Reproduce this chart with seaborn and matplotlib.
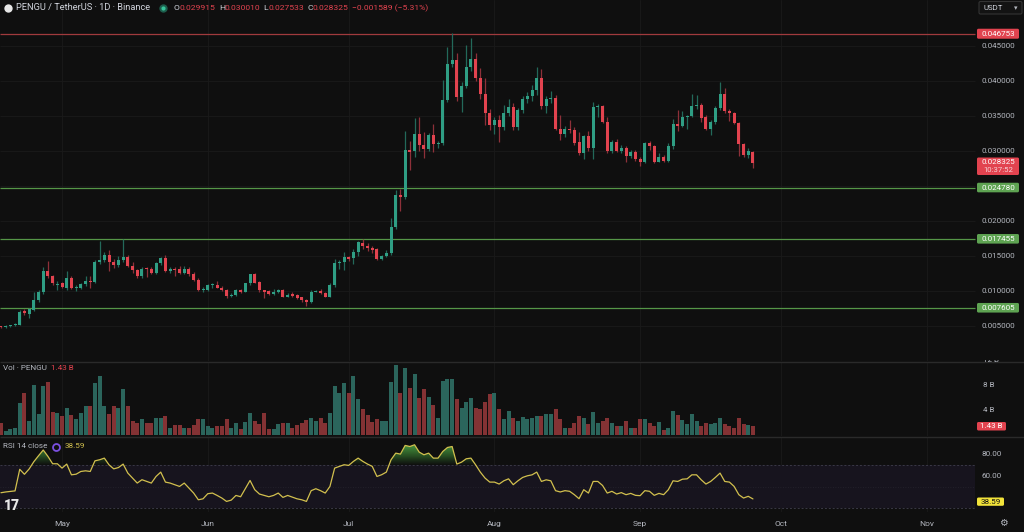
import numpy as np
import pandas as pd
import matplotlib
matplotlib.use("Agg")
import matplotlib.pyplot as plt
import seaborn as sns
from matplotlib.patches import Rectangle, FancyBboxPatch
from matplotlib.path import Path
from matplotlib.colors import LinearSegmentedColormap
from matplotlib.transforms import Bbox

# ---------------- data ----------------
start_date = "2025-04-18"

opens = [0.0049,0.0048,0.0050,0.0051,0.0052,0.0071,0.0067,0.0073,0.0087,0.0099,
         0.0128,0.0121,0.0108,0.0111,0.0105,0.0119,0.0104,0.0105,0.0110,0.0114,
         0.0113,0.0142,0.0144,0.0151,0.0142,0.0137,0.0144,0.0149,0.0136,0.0130,
         0.0121,0.0132,0.0131,0.0126,0.0140,0.0147,0.0129,0.0132,0.0131,0.0126,
         0.0132,0.0125,0.0116,0.0102,0.0102,0.0108,0.0109,0.0105,0.0101,0.0093,
         0.0094,0.0101,0.0099,0.0111,0.0124,0.0113,0.0101,0.0100,0.0096,0.0098,
         0.0101,0.0092,0.0096,0.0094,0.0091,0.0087,0.0084,0.0099,0.0100,0.0097,
         0.0092,0.0108,0.0140,0.0141,0.0148,0.0147,0.0156,0.0168,0.0165,0.0162,
         0.0160,0.0146,0.0150,0.0154,0.0192,0.0237,0.0235,0.0301,0.0300,0.0324,
         0.0308,0.0303,0.0323,0.0310,0.0311,0.0373,0.0424,0.0430,0.0377,0.0393,
         0.0420,0.0432,0.0405,0.0382,0.0355,0.0337,0.0344,0.0334,0.0354,0.0363,
         0.0335,0.0358,0.0374,0.0379,0.0387,0.0404,0.0364,0.0374,0.0376,0.0332,
         0.0325,0.0332,0.0330,0.0313,0.0297,0.0321,0.0305,0.0363,0.0364,0.0342,
         0.0300,0.0313,0.0300,0.0305,0.0293,0.0299,0.0289,0.0285,0.0311,0.0307,
         0.0285,0.0292,0.0286,0.0307,0.0339,0.0336,0.0349,0.0350,0.0365,0.0366,
         0.0348,0.0332,0.0341,0.0361,0.0381,0.0357,0.0354,0.0340,0.0310,0.0294,
         0.029915]

highs = [0.0050,0.0051,0.0052,0.0054,0.0073,0.0075,0.0076,0.0098,0.0101,0.0135,
         0.0143,0.0123,0.0114,0.0113,0.0129,0.0121,0.0108,0.0112,0.0122,0.0122,
         0.0144,0.0171,0.0156,0.0158,0.0146,0.0150,0.0175,0.0152,0.0141,0.0132,
         0.0134,0.0134,0.0134,0.0142,0.0149,0.0152,0.0135,0.0135,0.0136,0.0136,
         0.0134,0.0127,0.0118,0.0106,0.0110,0.0111,0.0114,0.0107,0.0103,0.0097,
         0.0103,0.0103,0.0112,0.0125,0.0126,0.0114,0.0102,0.0101,0.0103,0.0103,
         0.0103,0.0097,0.0098,0.0096,0.0092,0.0089,0.0101,0.0102,0.0103,0.0099,
         0.0111,0.0146,0.0144,0.0156,0.0150,0.0160,0.0172,0.0175,0.0169,0.0165,
         0.0162,0.0152,0.0158,0.0204,0.0245,0.0246,0.0328,0.0315,0.0347,0.0348,
         0.0327,0.0326,0.0338,0.0314,0.0402,0.0449,0.0468,0.0440,0.0398,0.0451,
         0.0461,0.0440,0.0418,0.0404,0.0360,0.0348,0.0351,0.0366,0.0375,0.0368,
         0.0362,0.0378,0.0385,0.0395,0.0420,0.0417,0.0378,0.0386,0.0380,0.0352,
         0.0336,0.0344,0.0334,0.0327,0.0323,0.0329,0.0370,0.0367,0.0366,0.0349,
         0.0316,0.0317,0.0308,0.0307,0.0302,0.0301,0.0291,0.0313,0.0315,0.0309,
         0.0297,0.0294,0.0312,0.0346,0.0358,0.0357,0.0352,0.0382,0.0380,0.0368,
         0.0351,0.0344,0.0364,0.0398,0.0390,0.0360,0.0356,0.0342,0.0312,0.0305,
         0.030010]

lows = [0.0047,0.0047,0.0049,0.0050,0.0051,0.0066,0.0062,0.0071,0.0084,0.0096,
        0.0118,0.0109,0.0102,0.0104,0.0102,0.0103,0.0100,0.0103,0.0107,0.0105,
        0.0111,0.0138,0.0141,0.0128,0.0133,0.0135,0.0141,0.0134,0.0126,0.0119,
        0.0119,0.0120,0.0124,0.0124,0.0137,0.0127,0.0126,0.0122,0.0124,0.0124,
        0.0122,0.0114,0.0100,0.0099,0.0100,0.0104,0.0104,0.0100,0.0090,0.0092,
        0.0093,0.0097,0.0098,0.0109,0.0111,0.0099,0.0090,0.0094,0.0095,0.0097,
        0.0091,0.0091,0.0092,0.0088,0.0085,0.0078,0.0083,0.0098,0.0096,0.0091,
        0.0091,0.0106,0.0131,0.0130,0.0143,0.0138,0.0150,0.0160,0.0157,0.0155,
        0.0144,0.0144,0.0148,0.0152,0.0188,0.0215,0.0232,0.0273,0.0292,0.0300,
        0.0290,0.0300,0.0298,0.0305,0.0308,0.0370,0.0420,0.0372,0.0356,0.0390,
        0.0415,0.0400,0.0375,0.0337,0.0330,0.0325,0.0313,0.0330,0.0350,0.0330,
        0.0330,0.0355,0.0368,0.0372,0.0380,0.0360,0.0355,0.0368,0.0330,0.0316,
        0.0320,0.0326,0.0308,0.0295,0.0289,0.0300,0.0289,0.0349,0.0340,0.0297,
        0.0297,0.0298,0.0297,0.0285,0.0290,0.0286,0.0278,0.0283,0.0301,0.0283,
        0.0284,0.0284,0.0285,0.0303,0.0328,0.0334,0.0332,0.0348,0.0360,0.0342,
        0.0330,0.0323,0.0339,0.0358,0.0354,0.0343,0.0338,0.0293,0.0291,0.0290,
        0.027533]

closes = [0.0048,0.0050,0.0051,0.0053,0.0070,0.0068,0.0074,0.0087,0.0099,0.0128,
          0.0121,0.0111,0.0109,0.0106,0.0119,0.0104,0.0106,0.0110,0.0114,0.0113,
          0.0142,0.0145,0.0152,0.0141,0.0137,0.0144,0.0149,0.0136,0.0130,0.0121,
          0.0132,0.0131,0.0126,0.0140,0.0147,0.0129,0.0132,0.0130,0.0126,0.0132,
          0.0125,0.0116,0.0101,0.0103,0.0108,0.0109,0.0105,0.0101,0.0093,0.0095,
          0.0101,0.0099,0.0111,0.0124,0.0112,0.0101,0.0099,0.0096,0.0099,0.0101,
          0.0092,0.0095,0.0093,0.0090,0.0087,0.0084,0.0099,0.0100,0.0097,0.0092,
          0.0109,0.0140,0.0142,0.0148,0.0146,0.0156,0.0170,0.0164,0.0161,0.0159,
          0.0146,0.0150,0.0155,0.0192,0.0237,0.0235,0.0301,0.0299,0.0324,0.0308,
          0.0303,0.0323,0.0310,0.0311,0.0373,0.0424,0.0430,0.0377,0.0393,0.0420,
          0.0432,0.0405,0.0382,0.0355,0.0337,0.0344,0.0334,0.0354,0.0363,0.0335,
          0.0358,0.0374,0.0379,0.0387,0.0404,0.0364,0.0374,0.0376,0.0332,0.0324,
          0.0332,0.0330,0.0312,0.0297,0.0321,0.0305,0.0363,0.0364,0.0342,0.0300,
          0.0313,0.0300,0.0305,0.0293,0.0299,0.0289,0.0285,0.0311,0.0307,0.0285,
          0.0292,0.0286,0.0307,0.0339,0.0336,0.0349,0.0350,0.0365,0.0366,0.0347,
          0.0332,0.0341,0.0361,0.0381,0.0357,0.0354,0.0340,0.0310,0.0294,0.0300,
          0.028325]

volume_b = [1.9,0.7,1.0,1.2,5.1,6.7,2.3,8.0,3.4,7.8,
            8.5,3.7,3.5,3.1,4.4,3.2,2.6,3.5,4.7,4.7,
            8.3,9.5,4.6,3.3,4.6,4.4,7.4,4.7,2.3,2.0,
            2.5,1.9,1.9,2.7,2.7,3.0,1.1,1.6,1.6,1.2,
            1.1,1.6,2.5,2.5,1.5,1.2,1.4,1.4,2.5,1.2,
            2.0,1.0,2.1,3.5,2.3,1.8,3.6,0.9,1.0,1.8,
            2.0,1.9,1.2,1.6,1.9,2.4,2.8,2.3,2.7,2.0,
            3.6,7.8,6.8,8.3,6.8,9.4,5.7,4.1,3.2,2.1,
            2.5,2.3,2.3,8.5,11.2,6.8,10.7,7.6,9.8,6.0,
            7.3,6.1,4.8,2.8,8.7,9.0,8.9,5.7,4.4,5.3,
            5.9,4.4,4.1,5.3,6.6,6.8,4.1,2.5,3.9,2.8,
            2.3,2.9,2.6,2.8,3.1,3.1,3.4,3.4,4.2,2.6,
            1.1,1.2,2.0,3.0,2.8,1.8,3.7,1.9,2.3,2.7,
            1.9,1.5,1.5,2.3,1.2,1.1,2.5,2.6,1.9,1.4,
            2.1,0.8,1.2,3.9,3.2,2.4,1.8,3.4,2.2,1.5,
            1.9,1.8,1.9,2.8,1.8,1.5,1.1,2.8,1.8,1.6,
            1.43]

rsi = [44.3,45.0,45.5,46.0,65.9,61.3,66.2,72.9,78.4,83.7,
       77.8,71.0,71.0,67.0,70.7,60.8,61.4,63.9,64.5,63.9,
       73.7,74.7,76.2,70.0,66.3,67.5,70.7,62.4,57.8,53.2,
       56.3,54.7,53.2,59.3,63.3,54.1,53.2,51.7,50.1,53.2,
       48.6,44.0,37.8,38.7,43.4,44.0,41.8,39.4,36.3,37.5,
       41.8,40.6,48.0,55.6,47.1,43.1,41.8,40.6,41.8,44.0,
       40.0,41.8,40.3,38.7,37.8,36.3,46.2,48.0,46.2,44.0,
       50.1,67.0,68.6,70.1,69.5,73.2,76.2,73.2,70.7,68.6,
       59.3,60.9,63.3,74.7,80.8,79.9,87.9,86.9,88.5,81.7,
       79.3,80.8,76.2,76.2,82.3,86.0,86.9,70.7,72.5,75.6,
       76.2,70.0,63.3,57.8,54.1,54.1,52.3,55.3,57.1,51.7,
       55.3,58.4,59.9,60.8,63.3,54.7,56.2,55.3,46.2,45.0,
       46.2,45.6,42.5,38.8,47.1,44.0,54.7,54.7,51.0,44.0,
       45.6,43.1,44.4,42.5,43.7,41.9,41.6,46.2,45.6,41.9,
       43.7,42.5,47.1,55.3,54.7,56.8,57.1,60.8,60.8,56.2,
       52.3,54.7,58.4,62.4,54.7,54.1,50.1,42.5,39.4,41.0,
       38.59]

price_ticks = [0.045, 0.040, 0.035, 0.030, 0.025, 0.020, 0.015, 0.010, 0.005]
price_tick_labels = ["0.045000", "0.040000", "0.035000", "0.030000", "",
                     "0.020000", "0.015000", "0.010000", "0.005000"]
red_level = 0.046753
green_levels = [0.024780, 0.017455, 0.007605]
green_level_labels = ["0.024780", "0.017455", "0.007605"]
last_price_label = "0.028325"
countdown_label = "10:37:52"
vol_ticks = [12, 8, 4]
vol_tick_labels = ["12 B", "8 B", "4 B"]
last_vol_label = "1.43 B"
rsi_ticks = [80, 60]
rsi_tick_labels = ["80.00", "60.00"]
last_rsi_label = "38.59"
month_labels = ["May", "Jun", "Jul", "Aug", "Sep", "Oct", "Nov"]

# ---------------- style ----------------
BG = "#0f0f0f"
GRID = "#1a1a1a"
TXT = "#b4b7bf"
UP = "#2f9e84"
DN = "#e2434f"
WICK_UP = "#23695a"
WICK_DN = "#8e3039"
VOL_UP = "#2b655c"
VOL_DN = "#843234"
LVL_RED = "#a03a3d"
LVL_GRN = "#559647"
BOX_GRN = "#5ea352"
RSI_COL = "#d2c04e"

sns.set_theme(style="dark", rc={"axes.facecolor": BG, "figure.facecolor": BG,
                                "axes.edgecolor": BG, "text.color": TXT})
plt.rcParams["font.family"] = ["Roboto", "DejaVu Sans"]

o = np.array(opens); h = np.array(highs); l = np.array(lows); c = np.array(closes)
n = len(c)
for arr in (opens, highs, lows, volume_b, rsi):
    assert len(arr) == n
idx = np.arange(n)
up = c >= o
all_dates = pd.date_range(start_date, periods=215, freq="D")
month_pos = [i for i, d in enumerate(all_dates) if d.day == 1]

W, H = 1024, 532
PX = 4.7                     # pixels per day
XL = (-0.2, W / PX - 0.2)
END = 975 / PX - 0.2         # right edge of the plotting area (data units)

fig = plt.figure(figsize=(W / 100, H / 100), dpi=100)
fig.patch.set_facecolor(BG)

def pane(top, bottom):
    ax = fig.add_axes([0, 1 - bottom / H, 1, (bottom - top) / H])
    ax.set_facecolor(BG)
    for s in ax.spines.values():
        s.set_visible(False)
    return ax

ax_p = pane(0, 361)
ax_v = pane(362, 436)
ax_r = pane(437, 512)

# ---------------- price pane ----------------
ax_p.set_xlim(*XL)
ax_p.set_ylim(0, 361 / 7000)
for t in price_ticks:
    ax_p.hlines(t, XL[0], END, color=GRID, lw=0.6, zorder=0)
for m in month_pos:
    ax_p.axvline(m, color=GRID, lw=0.6, zorder=0)
ax_p.hlines(red_level, XL[0], END, color=LVL_RED, lw=0.9, zorder=1)
for lv in green_levels:
    ax_p.hlines(lv, XL[0], END, color=LVL_GRN, lw=0.9, zorder=1)

ax_p.vlines(idx[up], l[up], h[up], color=WICK_UP, lw=0.9, zorder=2)
ax_p.vlines(idx[~up], l[~up], h[~up], color=WICK_DN, lw=0.9, zorder=2)
body = np.maximum(np.abs(c - o), 0.00014)
ax_p.bar(idx, body, bottom=np.minimum(o, c), width=0.64,
         color=np.where(up, UP, DN), linewidth=0, zorder=3)
ax_p.set_xticks([]); ax_p.set_yticks([])

# ---------------- volume pane ----------------
vol_df = pd.DataFrame({"i": idx, "vol": volume_b,
                       "dir": np.where(up, "up", "down")})
sns.barplot(data=vol_df, x="i", y="vol", hue="dir",
            palette={"up": VOL_UP, "down": VOL_DN}, native_scale=True,
            dodge=False, width=0.86, errorbar=None, legend=False,
            saturation=1, linewidth=0, ax=ax_v, zorder=2)
ax_v.set_xlim(*XL)
ax_v.set_ylim(-0.16, 11.68)
for m in month_pos:
    ax_v.axvline(m, color=GRID, lw=0.6, zorder=0)
ax_v.set_xticks([]); ax_v.set_yticks([])
ax_v.set_xlabel(""); ax_v.set_ylabel("")

# ---------------- RSI pane ----------------
RY = (26.54, 95.67)
for m in month_pos:
    ax_r.axvline(m, color=GRID, lw=0.6, zorder=0)
ax_r.add_patch(Rectangle((XL[0], 30), END - XL[0], 40, facecolor="#17141e",
                         edgecolor="none", zorder=0.5))
ax_r.hlines([70, 30], XL[0], END, color="#3a3946", lw=0.7,
            linestyles=(0, (2, 2)), zorder=1)
ax_r.hlines(50, XL[0], END, color="#26252e", lw=0.6,
            linestyles=(0, (1, 2)), zorder=1)
rsi_arr = np.array(rsi)
# overbought zone: gradient fill, transparent at 70 and green towards the top
ob = ax_r.fill_between(idx, 70, rsi_arr, where=rsi_arr > 70, interpolate=True,
                       facecolor="none", edgecolor="none", linewidth=0)
clip = Path.make_compound_path(*ob.get_paths())
gcmap = LinearSegmentedColormap.from_list(
    "ob", [(0.18, 0.40, 0.16, 0.0), (0.22, 0.48, 0.19, 0.6), (0.27, 0.56, 0.24, 0.95)])
grad = np.linspace(0, 1, 256).reshape(-1, 1)
im = ax_r.imshow(grad, extent=[XL[0], XL[1], 70, 86], origin="lower",
                 aspect="auto", cmap=gcmap, zorder=1.5, interpolation="bilinear")
im.set_clip_path(clip, transform=ax_r.transData)
ax_r.add_patch(Rectangle((XL[0], 86), XL[1] - XL[0], 20, facecolor=(0.27, 0.56, 0.24, 0.95),
                         edgecolor="none", zorder=1.5, clip_path=None))
ax_r.patches[-1].set_clip_path(clip, transform=ax_r.transData)
sns.lineplot(x=idx, y=rsi_arr, ax=ax_r, color=RSI_COL, lw=0.9, zorder=3)
ax_r.set_xlim(*XL)
ax_r.set_ylim(*RY)
ax_r.set_xticks([]); ax_r.set_yticks([])
ax_r.set_xlabel(""); ax_r.set_ylabel("")

# ---------------- overlay (pixel coordinates) ----------------
ax_o = fig.add_axes([0, 0, 1, 1], zorder=10)
ax_o.set_xlim(0, W); ax_o.set_ylim(H, 0)
ax_o.axis("off"); ax_o.patch.set_alpha(0)

def box(x0, y0, x1, y1, fc, ec="none"):
    ax_o.add_patch(FancyBboxPatch((x0, y0), x1 - x0, y1 - y0,
                                  boxstyle="round,pad=0,rounding_size=1.5",
                                  facecolor=fc, edgecolor=ec, lw=0.8))

def py(p):
    return 361 - p * 7000

# separators
ax_o.hlines([361.5, 436.5], 0, W, color="#2a2a2a", lw=1.0)

# price scale
for t, lab in zip(price_ticks, price_tick_labels):
    if lab:
        ax_o.text(982, py(t), lab, fontsize=5.8, color=TXT, va="center", ha="left")
box(977, py(red_level) - 5, 1019, py(red_level) + 5, DN)
ax_o.text(998, py(red_level), f"{red_level:.6f}", fontsize=5.8, color="white",
          va="center", ha="center")
for lv, lab in zip(green_levels, green_level_labels):
    box(977, py(lv) - 4.8, 1019, py(lv) + 4.8, BOX_GRN)
    ax_o.text(998, py(lv), lab, fontsize=5.8, color="white", va="center", ha="center")
box(977, 157.5, 1019, 175, DN)
ax_o.text(998, 162, last_price_label, fontsize=5.8, color="white", va="center", ha="center")
ax_o.text(998, 170.5, countdown_label, fontsize=5.6, color="#f5d0d3", va="center", ha="center")

# USDT selector
box(979, 1.5, 1022, 14, "#131313", ec="#343434")
ax_o.text(983, 8, "USDT", fontsize=5.6, color="#d1d4dc", va="center", ha="left")
ax_o.text(1016, 8, "▾", fontsize=5, color=TXT, va="center", ha="center",
          family=["DejaVu Sans"])

# volume scale
for t, lab in zip(vol_ticks, vol_tick_labels):
    yv = 435 - t * 6.25
    tx = ax_o.text(983, yv, lab, fontsize=5.8, color=TXT, va="center", ha="left")
    tx.set_clip_box(Bbox.from_extents(0, 0, W, H - 359.5))
    tx.set_clip_on(True)
box(977, 422, 1006, 430.5, DN)
ax_o.text(991.5, 426.3, last_vol_label, fontsize=5.8, color="white", va="center", ha="center")

# RSI scale
for t, lab in zip(rsi_ticks, rsi_tick_labels):
    ax_o.text(982, 454 + (80 - t) * 1.085, lab, fontsize=5.8, color=TXT,
              va="center", ha="left")
box(977, 497.5, 1004, 505.8, "#f2e33a")
ax_o.text(990.5, 501.7, last_rsi_label, fontsize=5.8, color="#111111",
          va="center", ha="center")

# time axis
for m, lab in zip(month_pos, month_labels):
    ax_o.text((m - XL[0]) * PX, 524, lab, fontsize=6.0, color=TXT,
              va="center", ha="center")
ax_o.text(1003, 523.5, "⚙", fontsize=7, color=TXT, va="center", ha="center",
          family=["DejaVu Sans"])

# header
ax_o.plot([7.5], [8], marker="o", ms=6, color="#e6e6e6", mec="none")
ax_o.text(16, 8, "PENGU / TetherUS · 1D · Binance", fontsize=6.7,
          color="#d1d4dc", va="center", ha="left")
ax_o.plot([163], [8], marker="o", ms=6, color="#1d5d4c", mec="none")
ax_o.plot([163], [8], marker="o", ms=3, color="#37c49a", mec="none")
hdr = [(174, "O", "0.029915"), (219, "H", "0.030010"),
       (263, "L", "0.027533"), (307, "C", "0.028325")]
for x0, k, v in hdr:
    ax_o.text(x0, 8, k, fontsize=6.1, color="#d1d4dc", va="center", ha="left")
    ax_o.text(x0 + 5.5, 8, v, fontsize=6.1, color=DN, va="center", ha="left")
ax_o.text(352, 8, "−0.001589 (−5.31%)", fontsize=6.1, color=DN,
          va="center", ha="left")

# pane legends
ax_o.text(3, 368.5, "Vol · PENGU", fontsize=5.9, color=TXT, va="center", ha="left")
ax_o.text(51, 368.5, last_vol_label, fontsize=5.9, color=DN, va="center", ha="left")
ax_o.text(3, 446.5, "RSI 14 close", fontsize=5.9, color=TXT, va="center", ha="left")
ax_o.plot([56], [446.5], marker="o", ms=5, mfc="none", mec="#7b4fe0", mew=1.3)
ax_o.text(65, 446.5, last_rsi_label, fontsize=5.9, color=RSI_COL, va="center", ha="left")

# logo
ax_o.text(4, 506, "17", fontsize=10, fontweight="heavy", color="#e8e8e8",
          va="center", ha="left")

fig.savefig("out.png", dpi=100, facecolor=BG)
